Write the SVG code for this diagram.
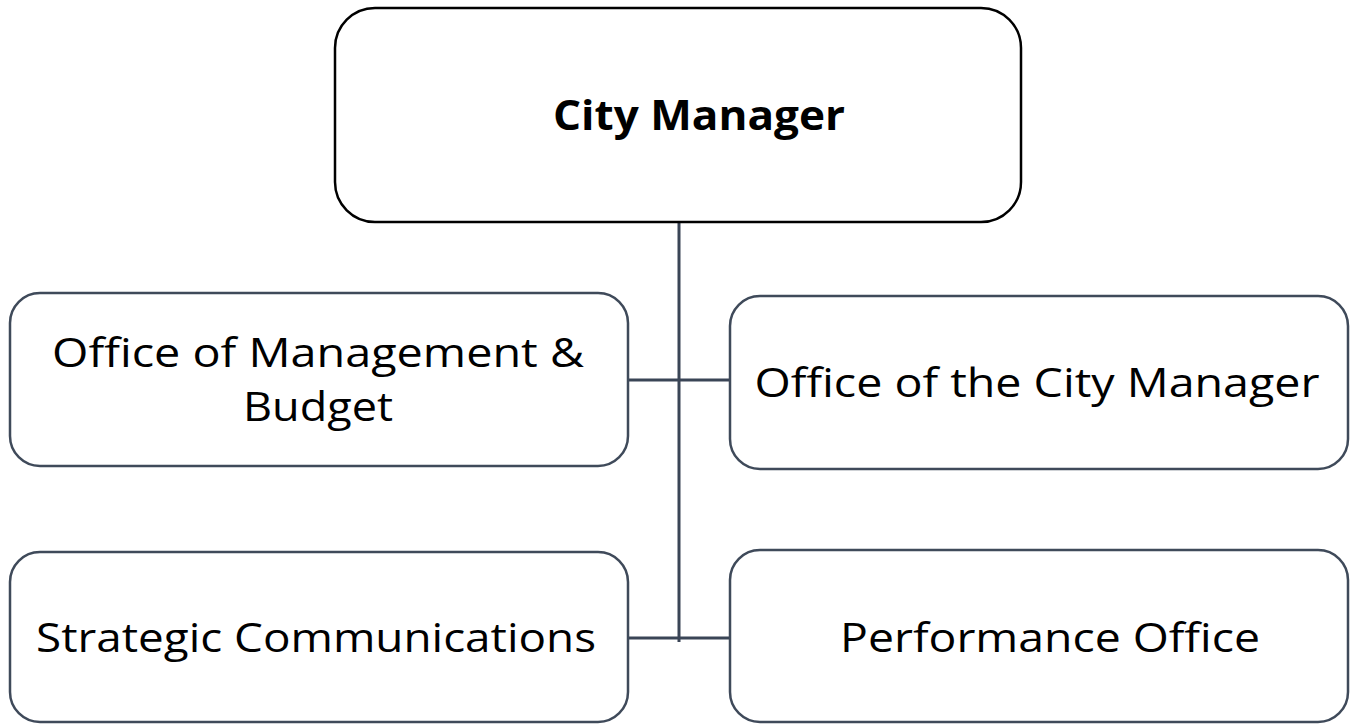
<svg xmlns="http://www.w3.org/2000/svg" width="1356" height="725" viewBox="0 0 1356 725">
<style>
.box{fill:#fff;stroke:#3f4a5a;stroke-width:2.5}
.top{fill:#fff;stroke:#000;stroke-width:2.5}
.t{font-family:"Open Sans","Liberation Sans",sans-serif;font-size:40px;fill:#000;text-anchor:middle}
.b{font-weight:bold;font-size:42px}
.c{stroke:#3a4556;stroke-width:3;fill:none}
</style>
<rect width="1356" height="725" fill="#fff"/>
<g id="connectors">
<line class="c" x1="679" y1="222" x2="679" y2="642"/>
<line class="c" x1="628" y1="380" x2="730" y2="380"/>
<line class="c" x1="628" y1="638" x2="730" y2="638"/>
</g>
<g id="city-manager">
<rect class="top" x="335" y="8" width="686" height="214" rx="40"/>
<text class="t b" x="699" y="130" textLength="292" lengthAdjust="spacingAndGlyphs">City Manager</text>
</g>
<g id="omb">
<rect class="box" x="10" y="293" width="618" height="173" rx="30"/>
<text class="t" x="318" y="367" textLength="532" lengthAdjust="spacingAndGlyphs">Office of Management &amp;</text>
<text class="t" x="318" y="421" textLength="150" lengthAdjust="spacingAndGlyphs">Budget</text>
</g>
<g id="ocm">
<rect class="box" x="730" y="296" width="618" height="173" rx="30"/>
<text class="t" x="1037" y="397" textLength="565" lengthAdjust="spacingAndGlyphs">Office of the City Manager</text>
</g>
<g id="strategic">
<rect class="box" x="10" y="552" width="618" height="170" rx="30"/>
<text class="t" x="316" y="652" textLength="560" lengthAdjust="spacingAndGlyphs">Strategic Communications</text>
</g>
<g id="performance">
<rect class="box" x="730" y="550" width="618" height="172" rx="30"/>
<text class="t" x="1050" y="652" textLength="420" lengthAdjust="spacingAndGlyphs">Performance Office</text>
</g>
</svg>
